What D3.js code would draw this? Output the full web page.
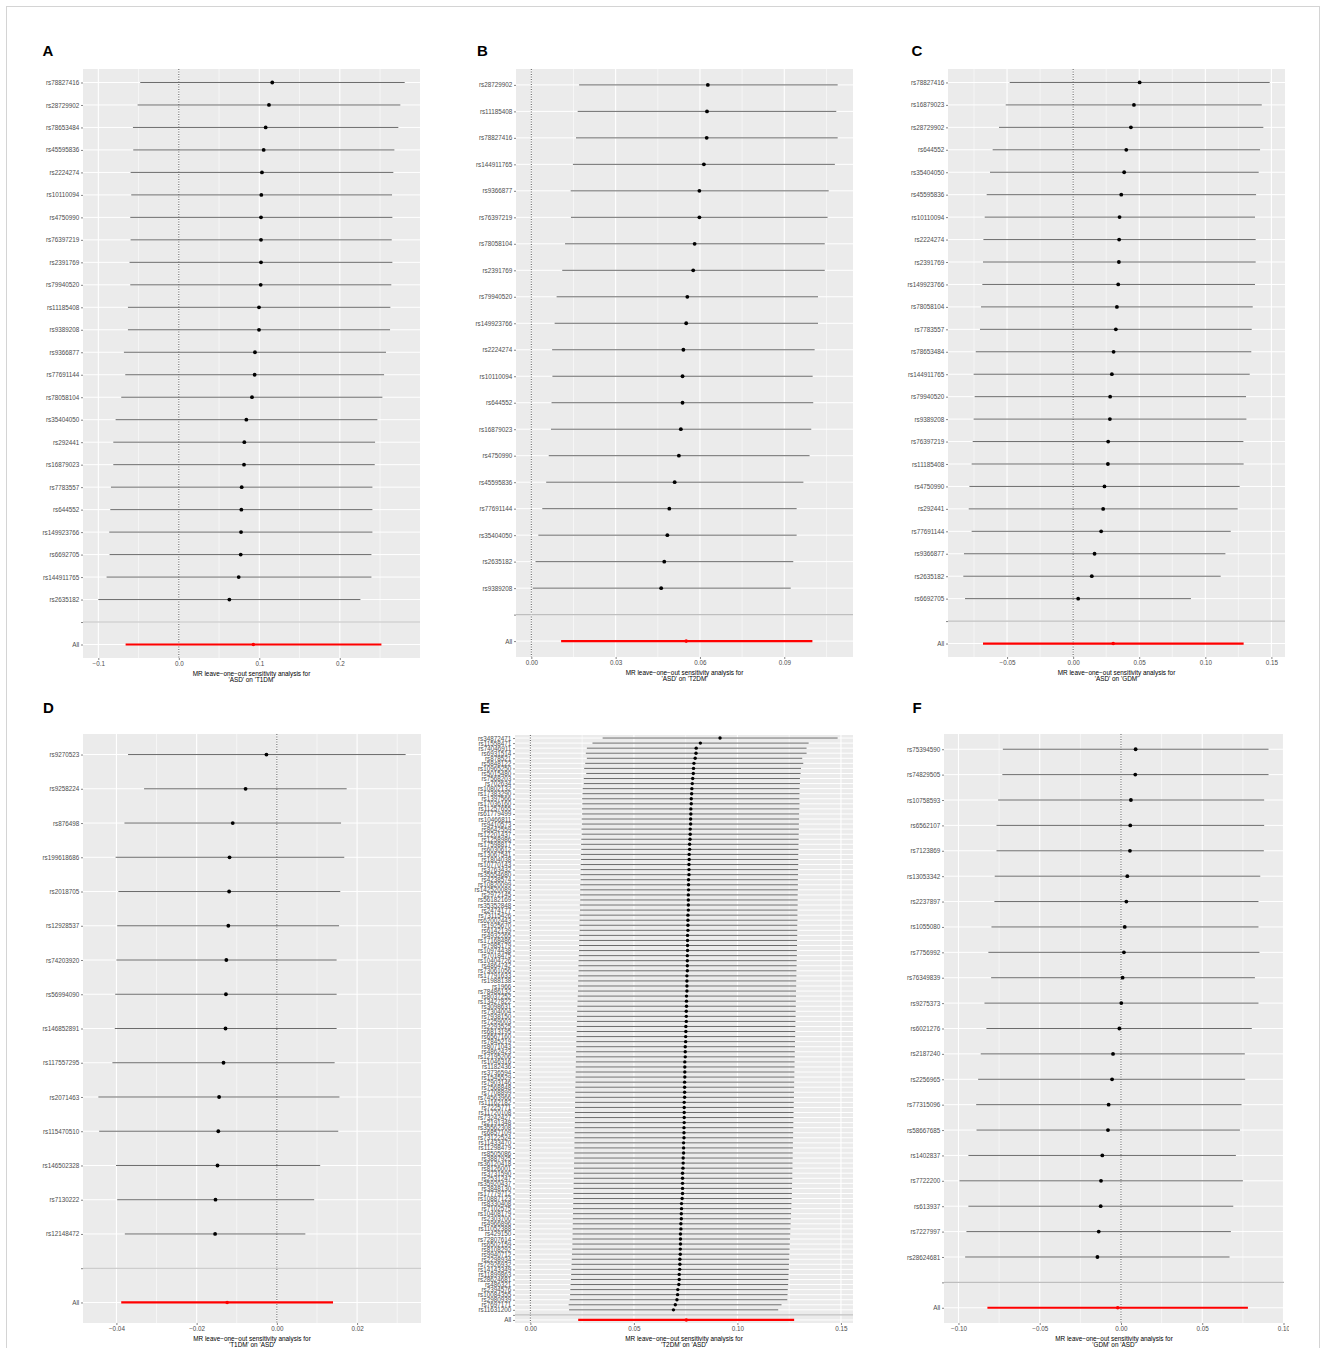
<!DOCTYPE html>
<html>
<head>
<meta charset="utf-8">
<script src="https://cdn.jsdelivr.net/npm/d3@7"></script>
<style>
  body { margin: 0; background: #fff; }
  svg { display: block; }
  text { font-family: "Liberation Sans", Arial, sans-serif; }
</style>
</head>
<body>
<svg id="fig" width="1326" height="1348"></svg>
<script>
// leave-one-out estimates, top row first. all = [b, lo, hi]
const snpsA = ['rs78827416','rs28729902','rs78653484','rs45595836','rs2224274','rs10110094','rs4750990','rs76397219',
  'rs2391769','rs79940520','rs11185408','rs9389208','rs9366877','rs77691144','rs78058104','rs35404050','rs292441',
  'rs16879023','rs7783557','rs644552','rs149923766','rs6692705','rs144911765','rs2635182'];
const bA = [0.1161,0.112,0.1079,0.1054,0.1033,0.1025,0.1021,0.1021,0.1021,0.1017,0.0996,0.0996,0.0946,0.0942,0.0909,
  0.0839,0.0814,0.081,0.0781,0.0777,0.0773,0.0769,0.0744,0.0628];
const loA = [-0.0479,-0.0512,-0.057,-0.0566,-0.0599,-0.0591,-0.0603,-0.0599,-0.0612,-0.0603,-0.0632,-0.0632,-0.0682,
  -0.0665,-0.0715,-0.0785,-0.0814,-0.0814,-0.0843,-0.0851,-0.0864,-0.086,-0.0897,-0.1];
const hiA = [0.2806,0.2752,0.2727,0.2678,0.2665,0.2649,0.2653,0.2645,0.2653,0.264,0.2628,0.2624,0.2574,0.255,0.2529,
  0.2467,0.2438,0.2434,0.2405,0.2405,0.2405,0.2393,0.2393,0.2256];
const allA = [0.0926, -0.0661, 0.2517];
const ticksA = [-0.1, 0, 0.1, 0.2];
const tickLabelsA = ['\u22120.1', '0.0', '0.1', '0.2'];

const snpsB = ['rs28729902','rs11185408','rs78827416','rs144911765','rs9366877','rs76397219','rs78058104','rs2391769',
  'rs79940520','rs149923766','rs2224274','rs10110094','rs644552','rs16879023','rs4750990','rs45595836','rs77691144',
  'rs35404050','rs2635182','rs9389208'];
const bB = [0.0628,0.0625,0.0624,0.0614,0.0598,0.0598,0.0581,0.0576,0.0555,0.0551,0.0541,0.0538,0.0538,0.0532,0.0525,
  0.051,0.0491,0.0484,0.0473,0.0462];
const loB = [0.017,0.0165,0.0159,0.0148,0.014,0.0141,0.012,0.011,0.009,0.0083,0.0074,0.0075,0.0072,0.007,0.0062,0.0053,
  0.0039,0.0025,0.0015,0.0005];
const hiB = [0.109,0.1085,0.109,0.108,0.1058,0.1054,0.1044,0.1044,0.102,0.102,0.1008,0.1001,0.1003,0.0996,0.099,0.0968,
  0.0944,0.0944,0.0932,0.0923];
const allB = [0.0551, 0.0106, 0.1];
const ticksB = [0, 0.03, 0.06, 0.09];
const tickLabelsB = ['0.00', '0.03', '0.06', '0.09'];

const snpsC = ['rs78827416','rs16879023','rs28729902','rs644552','rs35404050','rs45595836','rs10110094','rs2224274',
  'rs2391769','rs149923766','rs78058104','rs7783557','rs78653484','rs144911765','rs79940520','rs9389208','rs76397219',
  'rs11185408','rs4750990','rs292441','rs77691144','rs9366877','rs2635182','rs6692705'];
const bC = [0.0503,0.046,0.0437,0.0402,0.0386,0.0364,0.0351,0.0348,0.0346,0.0341,0.0331,0.0323,0.0306,0.0293,0.028,
  0.0278,0.0265,0.0263,0.0237,0.0227,0.0212,0.0162,0.0141,0.0038];
const loC = [-0.048,-0.051,-0.0561,-0.0609,-0.0629,-0.0654,-0.0669,-0.0679,-0.0682,-0.0687,-0.0697,-0.0705,-0.0737,
  -0.0753,-0.0745,-0.0753,-0.076,-0.0768,-0.0785,-0.079,-0.0768,-0.0826,-0.0831,-0.0818];
const hiC = [0.1487,0.1427,0.1439,0.1414,0.1404,0.1384,0.1376,0.1381,0.1381,0.1376,0.1359,0.1351,0.1348,0.1336,0.1308,
  0.1311,0.1288,0.129,0.126,0.1245,0.1192,0.1152,0.1116,0.0891];
const allC = [0.0303, -0.0682, 0.129];
const ticksC = [-0.05, 0, 0.05, 0.1, 0.15];
const tickLabelsC = ['\u22120.05', '0.00', '0.05', '0.10', '0.15'];

const snpsD = ['rs9270523','rs9258224','rs876498','rs199618686','rs2018705','rs12928537','rs74203920','rs56994090',
  'rs146852891','rs117557295','rs2071463','rs115470510','rs146502328','rs7130222','rs12148472'];
const bD = [-0.0026,-0.0078,-0.011,-0.0118,-0.0119,-0.0121,-0.0126,-0.0127,-0.0128,-0.0133,-0.0144,-0.0146,-0.0148,
  -0.0153,-0.0154];
const loD = [-0.0371,-0.0331,-0.038,-0.0402,-0.0395,-0.0398,-0.04,-0.0403,-0.0404,-0.041,-0.0445,-0.0443,-0.0401,
  -0.0398,-0.0379];
const hiD = [0.0321,0.0174,0.016,0.0168,0.0158,0.0155,0.0149,0.0149,0.0149,0.0144,0.0156,0.0153,0.0108,0.0093,0.0071];
const allD = [-0.0124, -0.0388, 0.014];
const ticksD = [-0.04, -0.02, 0, 0.02];
const tickLabelsD = ['\u22120.04', '\u22120.02', '0.00', '0.02'];

const snpsE = ['rs34872471','rs11558471','rs74046911','rs6931514','rs878521','rs5848122','rs10965250','rs5015480',
  'rs7568203','rs702634','rs10802132','rs17383290','rs1397566','rs17036160','rs11257655','rs61779499','rs10466811',
  'rs9410573','rs8642559','rs12201437','rs1258986','rs17598817','rs6030612','rs13067541','rs1804038','rs10770143',
  'rs3763432','rs35554680','rs4238574','rs10820099','rs142520089','rs2972145','rs56182169','rs35352848','rs2474177',
  'rs73115426','rs62002443','rs1925670','rs6142139','rs4932265','rs17168486','rs7985179','rs10974438','rs7018475',
  'rs10404726','rs4864742','rs73061056','rs17791633','rs1988138','rs1966','rs78486132','rs8037252','rs13427822',
  'rs3098631','rs7304004','rs7938150','rs7259003','rs2293525','rs6813195','rs6567160','rs7845219','rs8071043',
  'rs4862423','rs12195206','rs1046316','rs1182436','rs3736594','rs1545529','rs7903146','rs7568848','rs7708899',
  'rs74563966','rs11162182','rs7225771','rs11720108','rs73242427','rs2191348','rs35562308','rs6857109','rs73122524',
  'rs11433470','rs11298479','rs8505086','rs3887925','rs36120418','rs8126001','rs3731590','rs2531247','rs35920437',
  'rs3848130','rs17779712','rs10887123','rs8330408','rs7102575','rs10408179','rs2303700','rs4966896','rs11052388',
  'rs429150','rs72807614','rs6502159','rs8108292','rs9940712','rs2298934','rs72926932','rs14143349','rs11899863',
  'rs28624681','rs486321','rs2394576','rs10084355','rs2980939','rs7697171','rs11631200'];
const bE = [0.0916,0.0821,0.0801,0.08,0.0796,0.079,0.0788,0.0787,0.0784,0.0782,
  0.078,0.0779,0.0777,0.0777,0.0775,0.0775,0.0774,0.0774,0.0772,0.0772,
  0.0771,0.0769,0.0769,0.0767,0.0767,0.0766,0.0766,0.0766,0.0764,0.0764,
  0.0764,0.0763,0.0763,0.0763,0.0763,0.0761,0.0761,0.0761,0.0761,0.0759,
  0.0759,0.0759,0.0759,0.0758,0.0758,0.0758,0.0758,0.0756,0.0756,0.0756,
  0.0756,0.0754,0.0754,0.0754,0.0753,0.0753,
  0.0753,0.0751,0.0751,0.075,0.075,0.0748,0.0748,0.0748,0.0746,0.0746,
  0.0746,0.0746,0.0745,0.0745,0.0745,0.0745,0.0743,0.0743,0.0743,0.0743,
  0.0743,0.0742,0.0742,0.0742,0.074,0.074,0.074,0.0738,0.0738,0.0737,
  0.0735,0.0735,0.0735,0.0735,0.0735,0.0733,0.073,0.073,0.0729,0.0729,
  0.0727,0.0727,0.0725,0.0725,0.0725,0.0724,0.0724,0.0722,0.0722,0.0721,
  0.0719,0.0719,0.0717,0.0712,0.0711,0.0708,0.07,0.0691];
const loE = [0.0349,0.03,0.0273,0.0268,0.0273,0.0265,0.026,0.027,0.0258,0.0258,
  0.0253,0.0252,0.025,0.0251,0.0249,0.025,0.0248,0.0249,0.0247,0.0248,
  0.0246,0.0245,0.0246,0.0244,0.0245,0.0243,0.0243,0.0242,0.0243,0.0241,
  0.0241,0.024,0.0241,0.0239,0.024,0.0238,0.0238,0.0237,0.0238,0.0236,
  0.0236,0.0235,0.0235,0.0234,0.0233,0.0232,0.0233,0.0231,0.0231,0.023,
  0.023,0.0229,0.0228,0.0227,0.0226,0.0225,
  0.0225,0.0224,0.0224,0.0223,0.0222,0.0222,0.0221,0.022,0.022,0.0219,
  0.0219,0.0218,0.0218,0.0217,0.0217,0.0217,0.0216,0.0216,0.0215,0.0215,
  0.0215,0.0214,0.0214,0.0213,0.0213,0.0213,0.0212,0.0212,0.0211,0.0211,
  0.021,0.021,0.0209,0.0209,0.0208,0.0208,0.0207,0.0206,0.0206,0.0205,
  0.0205,0.0204,0.0204,0.0203,0.0203,0.0202,0.0201,0.02,0.0199,0.0198,
  0.0197,0.0196,0.0194,0.0193,0.0192,0.019,0.0185,0.0187];
const hiE = [0.1484,0.1344,0.1334,0.1334,0.1313,0.1318,0.1307,0.1305,0.1302,0.1302,
  0.13,0.13,0.1299,0.13,0.1299,0.1298,0.1298,0.1297,0.1297,0.1296,
  0.1296,0.1295,0.1295,0.1294,0.1294,0.1294,0.1293,0.1293,0.1292,0.1292,
  0.1292,0.1291,0.1291,0.1291,0.129,0.129,0.129,0.1289,0.1289,0.1289,
  0.1288,0.1288,0.1287,0.1287,0.1286,0.1286,0.1285,0.1285,0.1284,0.1284,
  0.1283,0.1283,0.1282,0.1282,0.1281,0.1281,
  0.128,0.128,0.1279,0.1279,0.1278,0.1278,0.1277,0.1277,0.1276,0.1276,
  0.1275,0.1275,0.1274,0.1274,0.1273,0.1273,0.1272,0.1272,0.1271,0.1271,
  0.127,0.127,0.1269,0.1269,0.1268,0.1268,0.1267,0.1267,0.1266,0.1266,
  0.1265,0.1265,0.1264,0.1263,0.1263,0.1262,0.1261,0.126,0.1259,0.1258,
  0.1257,0.1256,0.1255,0.1254,0.1253,0.1252,0.1251,0.125,0.1249,0.1248,
  0.1247,0.1246,0.1245,0.1243,0.1242,0.1241,0.1213,0.1197];
const allE = [0.0753, 0.0231, 0.1274];
const ticksE = [0, 0.05, 0.1, 0.15];
const tickLabelsE = ['0.00', '0.05', '0.10', '0.15'];

const snpsF = ['rs75394590','rs74829505','rs10758593','rs6562107','rs7123869','rs13053342','rs2237897','rs1055080',
  'rs7756992','rs76349839','rs9275373','rs6021276','rs2187240','rs2256965','rs77315096','rs58667685','rs1402837',
  'rs7722200','rs613937','rs7227997','rs28624681'];
const bF = [0.009,0.0088,0.0061,0.0057,0.0055,0.0039,0.0033,0.0023,0.0018,0.001,0.0002,-0.001,-0.0049,-0.0055,-0.0076,
  -0.008,-0.0115,-0.0123,-0.0125,-0.0137,-0.0145];
const loF = [-0.0727,-0.073,-0.0756,-0.0766,-0.0766,-0.0777,-0.0779,-0.0797,-0.0816,-0.0799,-0.084,-0.0828,-0.0863,
  -0.0879,-0.0891,-0.0889,-0.0939,-0.0994,-0.0939,-0.0951,-0.0959];
const hiF = [0.0908,0.0908,0.0881,0.0881,0.0879,0.0857,0.0846,0.0846,0.0852,0.0824,0.0846,0.0805,0.0762,0.0764,0.0742,
  0.0732,0.0707,0.075,0.0691,0.0676,0.0668];
const allF = [-0.002, -0.0822, 0.0781];
const ticksF = [-0.1, -0.05, 0, 0.05, 0.1];
const tickLabelsF = ['\u22120.10', '\u22120.05', '0.00', '0.05', '0.10'];

const svg = d3.select('#fig');

// light frame round the figure
svg.append('rect')
  .attr('x', 6.5).attr('y', 6.5).attr('width', 1313).attr('height', 1360)
  .attr('fill', 'none').attr('stroke', '#d4d4d4').attr('stroke-width', 1);

function drawPanel(p) {
  const g = svg.append('g');
  if (p.clip) {
    svg.append('clipPath').attr('id', 'clip' + p.tag)
      .append('rect').attr('x', 0).attr('y', 0).attr('width', p.clip).attr('height', 1348);
    g.attr('clip-path', `url(#clip${p.tag})`);
  }

  const levels = p.snps.concat(['', 'All']);
  const y = d3.scalePoint().domain(levels).range([p.top, p.bottom]).padding(0.6);

  // ggplot style limits: data range (with the 0 line) plus 5%
  const lo = d3.min(p.lo.concat([p.all[1], 0]));
  const hi = d3.max(p.hi.concat([p.all[2], 0]));
  const pad = (hi - lo) * 0.05;
  const x = d3.scaleLinear().domain([lo - pad, hi + pad]).range([p.left, p.right]);

  g.append('rect')
    .attr('x', p.left).attr('y', p.top)
    .attr('width', p.right - p.left).attr('height', p.bottom - p.top)
    .attr('fill', '#ebebeb');

  const step = p.ticks[1] - p.ticks[0];
  const minor = [];
  for (let i = -1; i < p.ticks.length; i++) {
    const v = p.ticks[0] + step * (i + 0.5);
    if (v > lo - pad && v < hi + pad) minor.push(v);
  }
  g.selectAll('.minor').data(minor).enter().append('line')
    .attr('x1', d => x(d)).attr('x2', d => x(d))
    .attr('y1', p.top).attr('y2', p.bottom)
    .attr('stroke', '#fff').attr('stroke-width', 0.55);
  g.selectAll('.vmajor').data(p.ticks).enter().append('line')
    .attr('x1', d => x(d)).attr('x2', d => x(d))
    .attr('y1', p.top).attr('y2', p.bottom)
    .attr('stroke', '#fff').attr('stroke-width', 1.1);
  g.selectAll('.hmajor').data(levels).enter().append('line')
    .attr('x1', p.left).attr('x2', p.right)
    .attr('y1', d => y(d)).attr('y2', d => y(d))
    .attr('stroke', '#fff').attr('stroke-width', 1);

  // zero line
  g.append('line')
    .attr('x1', x(0)).attr('x2', x(0))
    .attr('y1', p.top).attr('y2', p.bottom)
    .attr('stroke', '#444').attr('stroke-width', 0.9)
    .attr('stroke-dasharray', '1,1.5');

  // separator between SNPs and All
  g.append('line')
    .attr('x1', p.left).attr('x2', p.right)
    .attr('y1', y('')).attr('y2', y(''))
    .attr('stroke', '#bebebe').attr('stroke-width', 1.1);

  const rows = p.snps.map((s, i) => ({snp: s, b: p.b[i], lo: p.lo[i], hi: p.hi[i]}));
  g.selectAll('.bar').data(rows).enter().append('line')
    .attr('x1', d => x(d.lo)).attr('x2', d => x(d.hi))
    .attr('y1', d => y(d.snp)).attr('y2', d => y(d.snp))
    .attr('stroke', '#5a5a5a').attr('stroke-width', 0.9);
  g.selectAll('.dot').data(rows).enter().append('circle')
    .attr('cx', d => x(d.b)).attr('cy', d => y(d.snp))
    .attr('r', p.r).attr('fill', '#000');

  g.append('line')
    .attr('x1', x(p.all[1])).attr('x2', x(p.all[2]))
    .attr('y1', y('All')).attr('y2', y('All'))
    .attr('stroke', '#ff0000').attr('stroke-width', 2.2);
  g.append('circle')
    .attr('cx', x(p.all[0])).attr('cy', y('All'))
    .attr('r', 1.8).attr('fill', '#ff0000');

  const xAxis = g.append('g')
    .attr('transform', `translate(0,${p.bottom})`)
    .call(d3.axisBottom(x).tickValues(p.ticks).tickFormat((d, i) => p.tickLabels[i])
      .tickSize(2).tickPadding(1.2));
  const yAxis = g.append('g')
    .attr('transform', `translate(${p.left},0)`)
    .call(d3.axisLeft(y).tickSize(2).tickPadding(1.8));
  [xAxis, yAxis].forEach(a => {
    a.select('.domain').remove();
    a.selectAll('.tick line').attr('stroke', '#333').attr('stroke-width', 0.6);
    a.selectAll('.tick text').attr('fill', '#4d4d4d')
      .style('font-size', '6.3px').style('font-family', '"Liberation Sans", Arial, sans-serif');
  });

  const cx = (p.left + p.right) / 2;
  g.append('text').attr('x', cx).attr('y', p.bottom + 17.6)
    .attr('text-anchor', 'middle').style('font-size', '6.4px').attr('fill', '#000')
    .text('MR leave\u2212one\u2212out sensitivity analysis for');
  g.append('text').attr('x', cx).attr('y', p.bottom + 24.2)
    .attr('text-anchor', 'middle').style('font-size', '6.4px').attr('fill', '#000')
    .text(p.title);

  svg.append('text').attr('x', p.lx).attr('y', p.ly)
    .style('font-size', '15px').style('font-weight', 'bold').attr('fill', '#000')
    .text(p.tag);
}

const panels = [
  {tag: 'A', snps: snpsA, b: bA, lo: loA, hi: hiA, all: allA, ticks: ticksA, tickLabels: tickLabelsA,
   title: "'ASD' on 'T1DM'", left: 83, right: 420, top: 69, bottom: 658, r: 1.9, lx: 42.5, ly: 55.5},
  {tag: 'B', snps: snpsB, b: bB, lo: loB, hi: hiB, all: allB, ticks: ticksB, tickLabels: tickLabelsB,
   title: "'ASD' on 'T2DM'", left: 516, right: 853, top: 69, bottom: 657, r: 1.9, lx: 477, ly: 55.5},
  {tag: 'C', snps: snpsC, b: bC, lo: loC, hi: hiC, all: allC, ticks: ticksC, tickLabels: tickLabelsC,
   title: "'ASD' on 'GDM'", left: 948, right: 1285, top: 69, bottom: 657, r: 1.9, lx: 911.5, ly: 55.5},
  {tag: 'D', snps: snpsD, b: bD, lo: loD, hi: hiD, all: allD, ticks: ticksD, tickLabels: tickLabelsD,
   title: "'T1DM' on 'ASD'", left: 83, right: 421, top: 734, bottom: 1323, r: 1.9, lx: 43, ly: 713},
  {tag: 'E', snps: snpsE, b: bE, lo: loE, hi: hiE, all: allE, ticks: ticksE, tickLabels: tickLabelsE,
   title: "'T2DM' on 'ASD'", left: 515, right: 853, top: 735, bottom: 1323, r: 1.7, lx: 480, ly: 713},
  {tag: 'F', snps: snpsF, b: bF, lo: loF, hi: hiF, all: allF, ticks: ticksF, tickLabels: tickLabelsF,
   title: "'GDM' on 'ASD'", left: 944, right: 1284, top: 734, bottom: 1323, r: 1.9, lx: 912.5, ly: 713, clip: 1289}
];

panels.forEach(drawPanel);
</script>
</body>
</html>
